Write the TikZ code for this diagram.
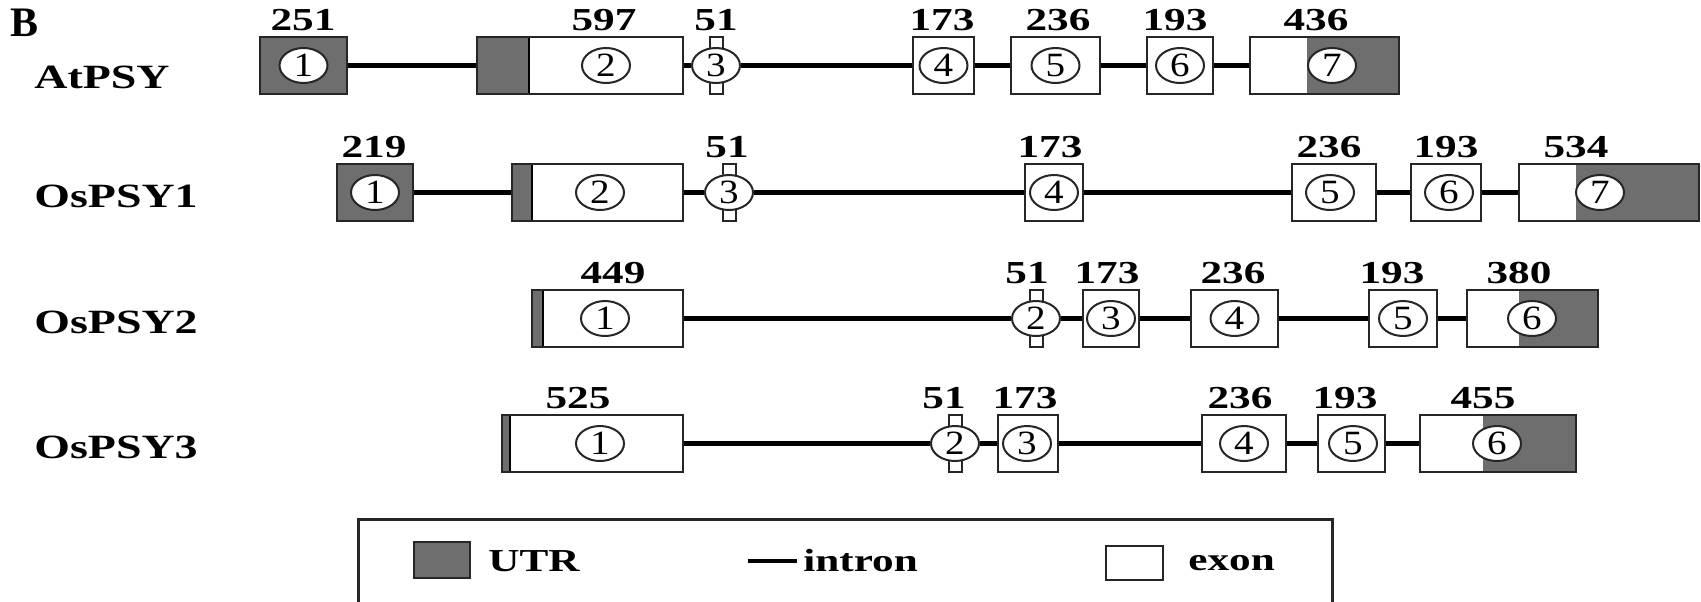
\documentclass[tikz,border=0pt]{standalone}
\usepackage{fontspec}
\setmainfont{Liberation Serif}
\usetikzlibrary{shapes.geometric}
\newcommand{\wtxt}[1]{\scalebox{1.35}[1]{#1}}
\newcommand{\wdig}[1]{\scalebox{1.15}[1]{#1}}

\begin{document}
\begin{tikzpicture}[x=0.5pt,y=-0.5pt,
  exon/.style={draw=black!85, line width=1.2pt, inner sep=0pt, minimum height=28.5pt},
  tab/.style={draw=black!85, fill=white, line width=1pt, inner sep=0pt, minimum width=6.5pt, minimum height=28.5pt},
  num/.style={ellipse, draw=black!85, fill=white, line width=1pt, inner sep=0pt, minimum width=24pt, minimum height=17.5pt, font=\fontsize{17}{17}\selectfont},
  len/.style={font=\fontsize{16}{16}\selectfont\bfseries, inner sep=0pt},
  gene/.style={font=\fontsize{17}{17}\selectfont\bfseries, inner sep=0pt, anchor=west},
  intron/.style={line width=2.3pt},
  utr/.style={fill=black!57}]
\useasboundingbox (0,0) rectangle (1701,601);
\clip (0,0) rectangle (1701,601);
\node[font=\fontsize{21}{21}\selectfont\bfseries, inner sep=0pt] (lblB) at (25,23) {B};

% AtPSY
\node[gene] (g1) at (34,77) {\wtxt{AtPSY}};
\fill[utr] (260,37) rectangle (347,94);
\node[exon, minimum width=43.5pt] (a1) at (303.5,65.5) {};
\fill[utr] (477,37) rectangle (529,94);
\draw[line width=1.2pt] (529,37) -- (529,94);
\node[exon, minimum width=103pt] (a2) at (580,65.5) {};
\node[tab] (a3) at (716,65.5) {};
\node[exon, minimum width=30.5pt] (a4) at (943.5,65.5) {};
\node[exon, minimum width=44.5pt] (a5) at (1055.5,65.5) {};
\node[exon, minimum width=33pt] (a6) at (1180,65.5) {};
\fill[utr] (1307,37) rectangle (1399,94);
\node[exon, minimum width=74.5pt] (a7) at (1324.5,65.5) {};
\node[num] (a1c) at (303.5,65.5) {\wdig{1}};
\node[num] (a2c) at (606,65.5) {\wdig{2}};
\node[num] (a3c) at (716,65.5) {\wdig{3}};
\node[num] (a4c) at (943.5,65.5) {\wdig{4}};
\node[num] (a5c) at (1055.5,65.5) {\wdig{5}};
\node[num] (a6c) at (1180,65.5) {\wdig{6}};
\node[num] (a7c) at (1332,65.5) {\wdig{7}};
\draw[intron] (a1.east) -- (a2.west);
\draw[intron] (a2.east) -- (a3c.west);
\draw[intron] (a3c.east) -- (a4.west);
\draw[intron] (a4.east) -- (a5.west);
\draw[intron] (a5.east) -- (a6.west);
\draw[intron] (a6.east) -- (a7.west);
\node[len] (a1l) at (303,20.5) {\wtxt{251}};
\node[len] (a2l) at (604,20.5) {\wtxt{597}};
\node[len] (a3l) at (716,20.5) {\wtxt{51}};
\node[len] (a4l) at (942,20.5) {\wtxt{173}};
\node[len] (a5l) at (1058,20.5) {\wtxt{236}};
\node[len] (a6l) at (1175,20.5) {\wtxt{193}};
\node[len] (a7l) at (1316,20.5) {\wtxt{436}};

% OsPSY1
\node[gene] (g2) at (34,196) {\wtxt{OsPSY1}};
\fill[utr] (337,164) rectangle (413,221);
\node[exon, minimum width=38pt] (b1) at (375,192.5) {};
\fill[utr] (512,164) rectangle (532,221);
\draw[line width=1.2pt] (532,164) -- (532,221);
\node[exon, minimum width=85.5pt] (b2) at (597.5,192.5) {};
\node[tab] (b3) at (729,192.5) {};
\node[exon, minimum width=29pt] (b4) at (1054,192.5) {};
\node[exon, minimum width=42pt] (b5) at (1334,192.5) {};
\node[exon, minimum width=35pt] (b6) at (1446,192.5) {};
\fill[utr] (1576,164) rectangle (1699,221);
\node[exon, minimum width=90pt] (b7) at (1609,192.5) {};
\node[num] (b1c) at (375,192.5) {\wdig{1}};
\node[num] (b2c) at (600,192.5) {\wdig{2}};
\node[num] (b3c) at (729,192.5) {\wdig{3}};
\node[num] (b4c) at (1054,192.5) {\wdig{4}};
\node[num] (b5c) at (1330,192.5) {\wdig{5}};
\node[num] (b6c) at (1449,192.5) {\wdig{6}};
\node[num] (b7c) at (1600,192.5) {\wdig{7}};
\draw[intron] (b1.east) -- (b2.west);
\draw[intron] (b2.east) -- (b3c.west);
\draw[intron] (b3c.east) -- (b4.west);
\draw[intron] (b4.east) -- (b5.west);
\draw[intron] (b5.east) -- (b6.west);
\draw[intron] (b6.east) -- (b7.west);
\node[len] (b1l) at (374,147.5) {\wtxt{219}};
\node[len] (b3l) at (727,147.5) {\wtxt{51}};
\node[len] (b4l) at (1050,147.5) {\wtxt{173}};
\node[len] (b5l) at (1329,147.5) {\wtxt{236}};
\node[len] (b6l) at (1446,147.5) {\wtxt{193}};
\node[len] (b7l) at (1576,147.5) {\wtxt{534}};

% OsPSY2
\node[gene] (g3) at (34,322) {\wtxt{OsPSY2}};
\fill[utr] (532,290) rectangle (543,347);
\draw[line width=1.2pt] (543,290) -- (543,347);
\node[exon, minimum width=75.5pt] (c1) at (607.5,318.5) {};
\node[tab] (c2) at (1036,318.5) {};
\node[exon, minimum width=28pt] (c3) at (1111,318.5) {};
\node[exon, minimum width=43.5pt] (c4) at (1234.5,318.5) {};
\node[exon, minimum width=34pt] (c5) at (1403,318.5) {};
\fill[utr] (1519,290) rectangle (1598,347);
\node[exon, minimum width=65.5pt] (c6) at (1532.5,318.5) {};
\node[num] (c1c) at (605,318.5) {\wdig{1}};
\node[num] (c2c) at (1036,318.5) {\wdig{2}};
\node[num] (c3c) at (1111,318.5) {\wdig{3}};
\node[num] (c4c) at (1234.5,318.5) {\wdig{4}};
\node[num] (c5c) at (1403,318.5) {\wdig{5}};
\node[num] (c6c) at (1532,318.5) {\wdig{6}};
\draw[intron] (c1.east) -- (c2c.west);
\draw[intron] (c2c.east) -- (c3.west);
\draw[intron] (c3.east) -- (c4.west);
\draw[intron] (c4.east) -- (c5.west);
\draw[intron] (c5.east) -- (c6.west);
\node[len] (c1l) at (613,273.5) {\wtxt{449}};
\node[len] (c2l) at (1027,273.5) {\wtxt{51}};
\node[len] (c3l) at (1107,273.5) {\wtxt{173}};
\node[len] (c4l) at (1233,273.5) {\wtxt{236}};
\node[len] (c5l) at (1392,273.5) {\wtxt{193}};
\node[len] (c6l) at (1519,273.5) {\wtxt{380}};

% OsPSY3
\node[gene] (g4) at (34,447) {\wtxt{OsPSY3}};
\fill[utr] (502,415) rectangle (510,472);
\draw[line width=1.2pt] (510,415) -- (510,472);
\node[exon, minimum width=90.5pt] (d1) at (592.5,443.5) {};
\node[tab] (d2) at (955,443.5) {};
\node[exon, minimum width=30pt] (d3) at (1028,443.5) {};
\node[exon, minimum width=42pt] (d4) at (1244,443.5) {};
\node[exon, minimum width=33.5pt] (d5) at (1351.5,443.5) {};
\fill[utr] (1483,415) rectangle (1576,472);
\node[exon, minimum width=78pt] (d6) at (1498,443.5) {};
\node[num] (d1c) at (600,443.5) {\wdig{1}};
\node[num] (d2c) at (955,443.5) {\wdig{2}};
\node[num] (d3c) at (1027,443.5) {\wdig{3}};
\node[num] (d4c) at (1244,443.5) {\wdig{4}};
\node[num] (d5c) at (1353,443.5) {\wdig{5}};
\node[num] (d6c) at (1497,443.5) {\wdig{6}};
\draw[intron] (d1.east) -- (d2c.west);
\draw[intron] (d2c.east) -- (d3.west);
\draw[intron] (d3.east) -- (d4.west);
\draw[intron] (d4.east) -- (d5.west);
\draw[intron] (d5.east) -- (d6.west);
\node[len] (d1l) at (578,398.5) {\wtxt{525}};
\node[len] (d2l) at (944,398.5) {\wtxt{51}};
\node[len] (d3l) at (1025,398.5) {\wtxt{173}};
\node[len] (d4l) at (1240,398.5) {\wtxt{236}};
\node[len] (d5l) at (1345,398.5) {\wtxt{193}};
\node[len] (d6l) at (1483,398.5) {\wtxt{455}};

% legend
\draw[line width=1.5pt, black!85] (358,519) rectangle (1332,660);
\node[exon, utr, minimum width=28pt, minimum height=18pt] (kutr) at (442,560) {};
\node[len, anchor=west] (kutrt) at (488,561) {\wtxt{UTR}};
\coordinate (kil) at (748,561);
\coordinate (kir) at (797,561);
\draw[intron] (kil) -- (kir);
\node[len, anchor=west] (kint) at (803,561) {\wtxt{intron}};
\node[exon, minimum width=28.5pt, minimum height=17pt] (kex) at (1134.5,563) {};
\node[len, anchor=west] (kext) at (1188,563) {\wtxt{exon}};
\end{tikzpicture}
\end{document}
